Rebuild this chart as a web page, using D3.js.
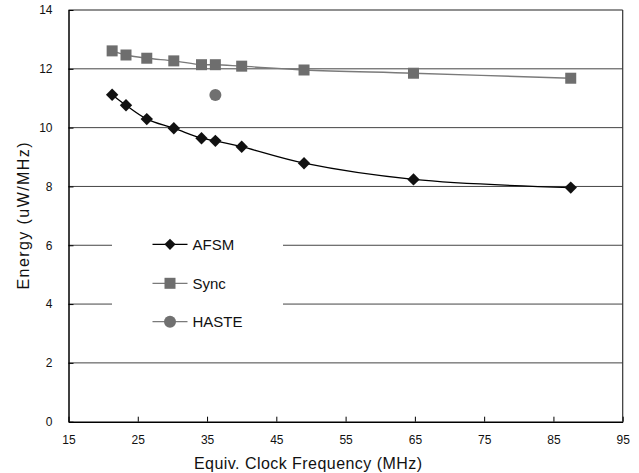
<!DOCTYPE html>
<html>
<head>
<meta charset="utf-8">
<script src="https://cdn.jsdelivr.net/npm/d3@7"></script>
<style>
  body { margin: 0; background: #fff; }
  text { font-family: "Liberation Sans", Arial, sans-serif; }
</style>
</head>
<body>
<script>
// Energy vs equivalent clock frequency

var width = 639;
var height = 473;
var margin = { left: 68.5, right: 16.3, top: 10, bottom: 51.3 };

// data
var freqs = [21.3, 23.3, 26.3, 30.2, 34.2, 36.2, 40.0, 49.0, 64.8, 87.5];
var afsm = [11.12, 10.76, 10.29, 9.98, 9.64, 9.55, 9.35, 8.79, 8.24, 7.96];
var sync = [12.61, 12.47, 12.36, 12.27, 12.14, 12.14, 12.09, 11.96, 11.85, 11.68];
var hasteX = [36.2];
var haste = [11.11];

var xTicks = [15, 25, 35, 45, 55, 65, 75, 85, 95];
var yTicks = [0, 2, 4, 6, 8, 10, 12, 14];
var legendNames = ["AFSM", "Sync", "HASTE"];

var svg = d3.select("body").append("svg")
  .attr("width", width)
  .attr("height", height);

var xScale = d3.scaleLinear()
  .domain([15, 95])
  .range([margin.left, width - margin.right]);

var yScale = d3.scaleLinear()
  .domain([0, 14])
  .range([height - margin.bottom, margin.top]);

var x0 = xScale(15), x1 = xScale(95);
var y0 = yScale(0), y1 = yScale(14);

// gridlines
svg.append("g")
  .selectAll("line")
  .data(yTicks.filter(function(d) { return d > 0 && d < 14; }))
  .enter()
  .append("line")
  .attr("x1", x0)
  .attr("x2", x1)
  .attr("y1", function(d) { return yScale(d); })
  .attr("y2", function(d) { return yScale(d); })
  .attr("stroke", "#444")
  .attr("stroke-width", 1);

// plot frame top / right
svg.append("line")
  .attr("x1", x0).attr("x2", x1).attr("y1", y1).attr("y2", y1)
  .attr("stroke", "#222").attr("stroke-width", 1.2);
svg.append("line")
  .attr("x1", x1).attr("x2", x1).attr("y1", y1).attr("y2", y0)
  .attr("stroke", "#333").attr("stroke-width", 1.2);

// x axis, ticks inside
var xAxis = d3.axisBottom(xScale)
  .tickValues(xTicks)
  .tickSizeInner(-5)
  .tickSizeOuter(0)
  .tickPadding(14);

var gx = svg.append("g")
  .attr("transform", "translate(0," + y0 + ")")
  .call(xAxis);
gx.select(".domain").attr("stroke", "#000").attr("stroke-width", 1.5);
gx.selectAll(".tick line").attr("stroke", "#000");
gx.selectAll("text")
  .attr("font-size", "12px")
  .attr("fill", "#111")
  .attr("font-family", "Liberation Sans, Arial, sans-serif");

// y axis
var yAxis = d3.axisLeft(yScale)
  .tickValues(yTicks)
  .tickSizeInner(-5)
  .tickSizeOuter(0)
  .tickPadding(16);

var gy = svg.append("g")
  .attr("transform", "translate(" + x0 + ",0)")
  .call(yAxis);
gy.select(".domain").attr("stroke", "#000").attr("stroke-width", 1.5);
gy.selectAll(".tick line").attr("stroke", "#000");
gy.selectAll("text")
  .attr("font-size", "12px")
  .attr("fill", "#111")
  .attr("font-family", "Liberation Sans, Arial, sans-serif");

// axis titles
svg.append("text")
  .attr("x", 308)
  .attr("y", 469)
  .attr("text-anchor", "middle")
  .attr("font-size", "16px")
  .attr("fill", "#111")
  .attr("textLength", 228)
  .attr("lengthAdjust", "spacing")
  .text("Equiv. Clock Frequency (MHz)");

svg.append("text")
  .attr("transform", "translate(29,216) rotate(-90)")
  .attr("text-anchor", "middle")
  .attr("font-size", "16px")
  .attr("fill", "#111")
  .attr("textLength", 147)
  .attr("lengthAdjust", "spacing")
  .text("Energy (uW/MHz)");

// lines
var line = d3.line()
  .x(function(d) { return xScale(d[0]); })
  .y(function(d) { return yScale(d[1]); })
  .curve(d3.curveCatmullRom.alpha(0.5));

var afsmPts = freqs.map(function(f, i) { return [f, afsm[i]]; });
var syncPts = freqs.map(function(f, i) { return [f, sync[i]]; });
var hastePts = hasteX.map(function(f, i) { return [f, haste[i]]; });

svg.append("path")
  .datum(syncPts)
  .attr("d", line)
  .attr("fill", "none")
  .attr("stroke", "#7a7a7a")
  .attr("stroke-width", 1.4);

svg.append("path")
  .datum(afsmPts)
  .attr("d", line)
  .attr("fill", "none")
  .attr("stroke", "#000")
  .attr("stroke-width", 1.3);

// markers
var diamond = d3.symbol().type(d3.symbolDiamond2).size(98);

svg.append("g")
  .selectAll("rect")
  .data(syncPts)
  .enter()
  .append("rect")
  .attr("x", function(d) { return xScale(d[0]) - 5.5; })
  .attr("y", function(d) { return yScale(d[1]) - 5.5; })
  .attr("width", 11)
  .attr("height", 11)
  .attr("fill", "#6e6e6e");

svg.append("g")
  .selectAll("path")
  .data(afsmPts)
  .enter()
  .append("path")
  .attr("d", diamond)
  .attr("transform", function(d) {
    return "translate(" + xScale(d[0]) + "," + yScale(d[1]) + ")";
  })
  .attr("fill", "#111");

svg.append("g")
  .selectAll("circle")
  .data(hastePts)
  .enter()
  .append("circle")
  .attr("cx", function(d) { return xScale(d[0]); })
  .attr("cy", function(d) { return yScale(d[1]); })
  .attr("r", 6)
  .attr("fill", "#707070");

// legend
var legend = svg.append("g");
legend.append("rect")
  .attr("x", 112)
  .attr("y", 226)
  .attr("width", 171)
  .attr("height", 114)
  .attr("fill", "#fff");

var rowY = [244.3, 283.3, 321.7];
var rowColor = ["#000", "#7a7a7a", "#7a7a7a"];

var rows = legend.selectAll(".row")
  .data(legendNames)
  .enter()
  .append("g")
  .attr("transform", function(d, i) { return "translate(0," + rowY[i] + ")"; });

rows.append("line")
  .attr("x1", 152.5)
  .attr("x2", 187.5)
  .attr("stroke", function(d, i) { return rowColor[i]; })
  .attr("stroke-width", 1.3);

rows.each(function(d, i) {
  var g = d3.select(this);
  if (i === 0) {
    g.append("path").attr("d", d3.symbol().type(d3.symbolDiamond2).size(80)).attr("transform", "translate(170,0)").attr("fill", "#111");
  } else if (i === 1) {
    g.append("rect").attr("x", 164.5).attr("y", -5.5).attr("width", 11).attr("height", 11).attr("fill", "#6e6e6e");
  } else {
    g.append("circle").attr("cx", 170).attr("r", 6).attr("fill", "#707070");
  }
});

rows.append("text")
  .attr("x", 192.5)
  .attr("y", 5.5)
  .attr("font-size", "15px")
  .attr("fill", "#111")
  .text(function(d) { return d; });
</script>
</body>
</html>
